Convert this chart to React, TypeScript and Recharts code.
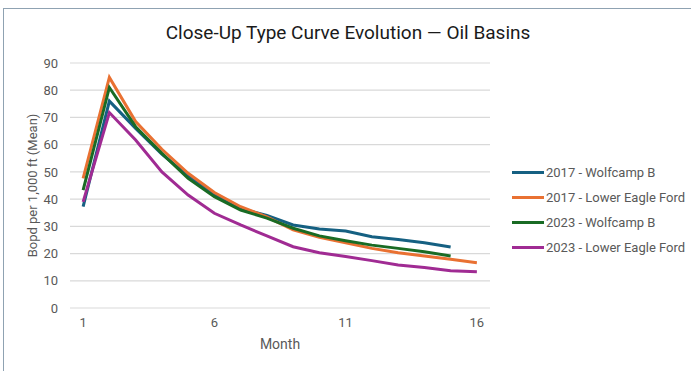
import React from "react";
import { LineChart, Line, XAxis, YAxis, CartesianGrid } from "recharts";

// Mean producing rate by month, Bopd per 1,000 ft of lateral
const months = [1, 2, 3, 4, 5, 6, 7, 8, 9, 10, 11, 12, 13, 14, 15, 16];
const wolfcamp2017 = [37.2, 76, 66, 56.5, 48.5, 41.5, 36.5, 34, 30.5, 29, 28.3, 26.2, 25.2, 24, 22.4];
const eagleFord2017 = [47.6, 84.7, 68.5, 58.3, 49.5, 42.4, 37.2, 33.5, 28.7, 26, 24, 21.9, 20.3, 19.1, 17.9, 16.6];
const wolfcamp2023 = [43.3, 81, 66.6, 56.8, 47.6, 40.9, 36, 33, 29.3, 26.5, 24.7, 23.1, 21.9, 20.7, 19.1];
const eagleFord2023 = [39, 71.8, 61.7, 50, 41.5, 34.8, 30.5, 26.5, 22.5, 20.3, 18.9, 17.4, 15.8, 14.9, 13.7, 13.3];

const yTicks = [0, 10, 20, 30, 40, 50, 60, 70, 80, 90];
const xTicks = [1, 6, 11, 16];

const series = [
  { key: "w17", name: "2017 - Wolfcamp B", values: wolfcamp2017, color: "#156082" },
  { key: "e17", name: "2017 - Lower Eagle Ford", values: eagleFord2017, color: "#E97132" },
  { key: "w23", name: "2023 - Wolfcamp B", values: wolfcamp2023, color: "#196B24" },
  { key: "e23", name: "2023 - Lower Eagle Ford", values: eagleFord2023, color: "#A02B93" },
];

const rows = months.map((m, i) => {
  const row: Record<string, number | undefined> = { month: m };
  series.forEach((s) => {
    row[s.key] = s.values[i];
  });
  return row;
});

const FONT = "Roboto, 'Open Sans', sans-serif";
const GREY = "#595959";

function LegendList() {
  return (
    <div style={{ position: "absolute", left: 512, top: 160, fontFamily: FONT, fontSize: 13, color: GREY }}>
      {series.map((s) => (
        <div key={s.key} style={{ display: "flex", alignItems: "center", height: 25, whiteSpace: "nowrap" }}>
          <span style={{ display: "inline-block", width: 32, height: 3, background: s.color, marginRight: 2 }} />
          <span>{s.name}</span>
        </div>
      ))}
    </div>
  );
}

export default function App() {
  return (
    <div style={{ position: "absolute", left: 0, top: 0, width: 691, height: 371, background: "#fff", overflow: "hidden" }}>
      <div
        style={{
          position: "absolute",
          left: 3,
          top: 8,
          width: 700,
          height: 400,
          borderTop: "1.5px solid #8fa2b2",
          borderLeft: "1.5px solid #8fa2b2",
        }}
      />
      <div
        style={{
          position: "absolute",
          left: 0,
          top: 21,
          width: 696,
          textAlign: "center",
          fontFamily: FONT,
          fontSize: 19,
          color: "#1a1a1a",
        }}
      >
        Close-Up Type Curve Evolution — Oil Basins
      </div>
      <div style={{ position: "absolute", left: 0, top: 0 }}>
        <LineChart width={691} height={371} data={rows} margin={{ top: 63, right: 201, bottom: 33, left: 20 }}>
          <CartesianGrid horizontal vertical={false} stroke="#d9d9d9" strokeWidth={1.2} />
          <XAxis
            dataKey="month"
            type="number"
            domain={[0.5, 16.5]}
            ticks={xTicks}
            interval={0}
            axisLine={false}
            tickLine={false}
            tickMargin={4}
            height={30}
            tick={{ fill: GREY, fontSize: 13, fontFamily: FONT }}
            label={{ value: "Month", position: "bottom", offset: 1, fill: GREY, fontSize: 14, fontFamily: FONT }}
          />
          <YAxis
            domain={[0, 90]}
            ticks={yTicks}
            interval={0}
            width={50}
            axisLine={false}
            tickLine={false}
            tickMargin={6}
            tick={{ fill: GREY, fontSize: 13, fontFamily: FONT }}
            label={{
              value: "Bopd per 1,000 ft (Mean)",
              angle: -90,
              position: "center",
              dx: -13,
              fill: GREY,
              fontSize: 13,
              fontFamily: FONT,
            }}
          />
          {series.map((s) => (
            <Line
              key={s.key}
              dataKey={s.key}
              name={s.name}
              stroke={s.color}
              strokeWidth={3}
              dot={false}
              activeDot={false}
              type="linear"
              isAnimationActive={false}
            />
          ))}
        </LineChart>
      </div>
      <LegendList />
    </div>
  );
}
